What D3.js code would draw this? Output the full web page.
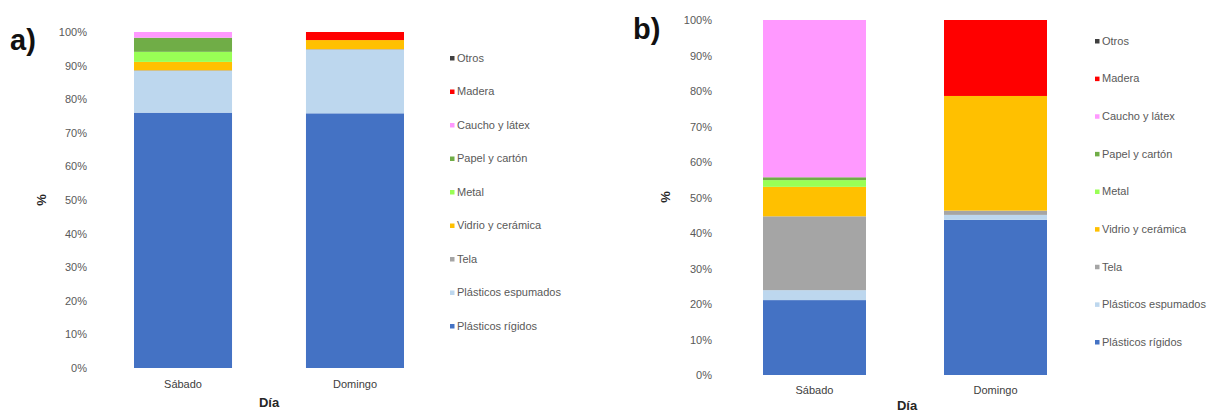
<!DOCTYPE html>
<html>
<head>
<meta charset="utf-8">
<script src="https://cdn.jsdelivr.net/npm/d3@7/dist/d3.min.js"></script>
<style>
  body { margin: 0; background: #fff; }
  svg { display: block; font-family: "Liberation Sans", Arial, sans-serif; }
</style>
</head>
<body>
<svg id="chart" width="1214" height="413"></svg>
<script>
// Waste categories, bottom of the stack first
const categories = ["Plásticos rígidos", "Plásticos espumados", "Tela", "Vidrio y cerámica",
                    "Metal", "Papel y cartón", "Caucho y látex", "Madera", "Otros"];
const days = ["Sábado", "Domingo"];
const yTicks = [0, 10, 20, 30, 40, 50, 60, 70, 80, 90, 100];

// Percentage per category (same order as categories) for each day
const panelA_Sabado  = [76.0, 12.4, 0.2, 2.5, 3.0, 4.2, 1.7, 0.0, 0.0];
const panelA_Domingo = [75.8, 18.9, 0.2, 2.7, 0.0, 0.0, 0.0, 2.4, 0.0];
const panelB_Sabado  = [21.1, 2.8, 20.8, 8.3, 1.9, 0.8, 44.3, 0.0, 0.0];
const panelB_Domingo = [43.7, 1.4, 1.2, 32.3, 0.0, 0.0, 0.0, 21.4, 0.0];

const colors = ["#4472C4", "#BDD7EE", "#A5A5A5", "#FFC000", "#99FF55",
                "#70AD47", "#FF99FF", "#FF0000", "#404040"];

const svg = d3.select("#chart");
const color = d3.scaleOrdinal().domain(categories).range(colors);

function drawPanel(cfg) {
  const rows = days.map((d, i) => {
    const r = { day: d };
    categories.forEach((c, j) => r[c] = cfg.values[i][j]);
    return r;
  });
  const series = d3.stack().keys(categories)(rows);

  const y = d3.scaleLinear().domain([0, 100]).range([cfg.y0, cfg.y1]);
  const x = d3.scaleBand().domain(days).range([cfg.x0, cfg.x1])
    .paddingInner(cfg.padInner).paddingOuter(0);

  const g = svg.append("g");

  // stacked bars
  g.selectAll("g.layer").data(series).join("g")
    .attr("fill", s => color(s.key))
    .selectAll("rect").data(s => s).join("rect")
      .attr("x", d => x(d.data.day))
      .attr("width", x.bandwidth())
      .attr("y", d => y(d[1]))
      .attr("height", d => Math.max(0, y(d[0]) - y(d[1])));

  // y axis (labels only)
  const yAxis = d3.axisLeft(y).tickValues(yTicks).tickFormat(d => d + "%").tickSize(0).tickPadding(0);
  const ya = g.append("g").attr("transform", `translate(${cfg.yAxisX},0)`).call(yAxis);
  ya.select(".domain").remove();
  ya.selectAll("text").attr("fill", "#595959").style("font-size", "11px")
    .style("font-family", "'Liberation Sans', Arial, sans-serif");

  // x axis (labels only)
  const xAxis = d3.axisBottom(x).tickSize(0).tickPadding(0);
  const xa = g.append("g").attr("transform", `translate(0,${cfg.xLabelY})`).call(xAxis);
  xa.select(".domain").remove();
  xa.selectAll("text").attr("fill", "#404040").style("font-size", "11px")
    .style("font-family", "'Liberation Sans', Arial, sans-serif");

  // axis titles
  g.append("text").attr("x", cfg.xTitle[0]).attr("y", cfg.xTitle[1])
    .attr("text-anchor", "middle").attr("font-weight", "bold").attr("font-size", 13)
    .attr("fill", "#262626").text("Día");
  g.append("text").attr("transform", `translate(${cfg.yTitle[0]},${cfg.yTitle[1]}) rotate(-90)`)
    .attr("text-anchor", "middle").attr("font-weight", "bold").attr("font-size", 13)
    .attr("fill", "#262626").text("%");

  // panel letter
  g.append("text").attr("x", cfg.letter[0]).attr("y", cfg.letter[1])
    .attr("font-weight", "bold").attr("font-size", 29).attr("fill", "#111")
    .text(cfg.letterText);

  // legend, top entry is the last category
  const leg = g.append("g");
  const legendItems = categories.slice().reverse();
  const ly = d3.scalePoint().domain(legendItems).range([cfg.legTop, cfg.legBottom]);
  const item = leg.selectAll("g").data(legendItems).join("g")
    .attr("transform", d => `translate(${cfg.legX},${ly(d)})`);
  item.append("rect").attr("x", -2).attr("y", -2).attr("width", 4.5).attr("height", 4.5)
    .attr("fill", d => color(d));
  item.append("text").attr("x", 5).attr("y", 0).attr("dy", "0.35em")
    .attr("font-size", 11).attr("fill", "#595959").text(d => d);
}

drawPanel({
  values: [panelA_Sabado, panelA_Domingo],
  y0: 368, y1: 32, x0: 134, x1: 404, padInner: 0.43,
  yAxisX: 87, xLabelY: 380, xTitle: [269, 407], yTitle: [46, 200],
  letter: [10, 50], letterText: "a)",
  legX: 452, legTop: 58, legBottom: 326
});

drawPanel({
  values: [panelB_Sabado, panelB_Domingo],
  y0: 375, y1: 20, x0: 763, x1: 1047, padInner: 0.431,
  yAxisX: 712, xLabelY: 386, xTitle: [907, 410], yTitle: [670, 197],
  letter: [633, 39], letterText: "b)",
  legX: 1097, legTop: 41, legBottom: 342
});
</script>
</body>
</html>
